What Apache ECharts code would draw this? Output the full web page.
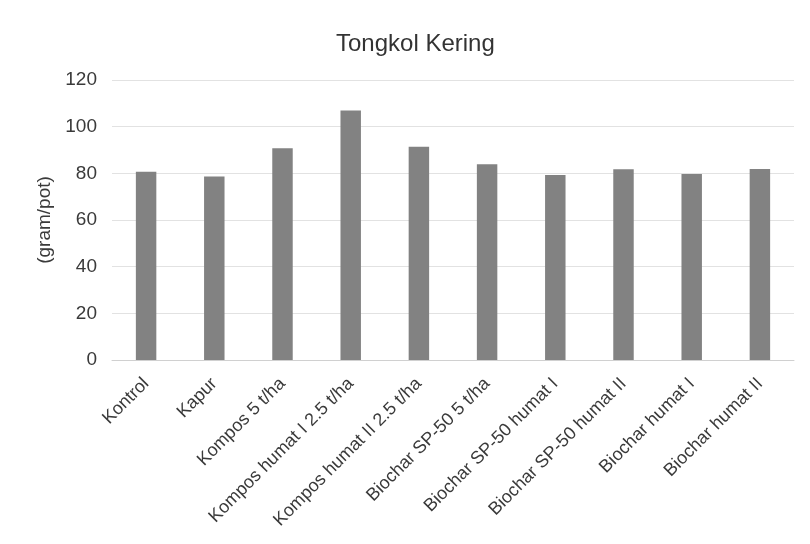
<!DOCTYPE html>
<html>
<head>
<meta charset="utf-8">
<script src="https://cdn.jsdelivr.net/npm/echarts@6/dist/echarts.min.js"></script>
<style>
html,body{margin:0;padding:0;background:#fff;}
#chart{width:810px;height:544px;}
</style>
</head>
<body>
<div id="chart"></div>
<script>
const categories = ["Kontrol", "Kapur", "Kompos 5 t/ha", "Kompos humat I 2.5 t/ha", "Kompos humat II 2.5 t/ha", "Biochar SP-50 5 t/ha", "Biochar SP-50 humat I", "Biochar SP-50 humat II", "Biochar humat I", "Biochar humat II"];
const values = [80.7, 78.6, 90.7, 106.9, 91.4, 83.9, 79.3, 81.7, 79.7, 81.9];
const yTicks = [0, 20, 40, 60, 80, 100, 120];
const titleText = "Tongkol Kering";
const yName = "(gram/pot)";

const chart = echarts.init(document.getElementById('chart'), null, {renderer: 'canvas'});
chart.setOption({
  animation: false,
  backgroundColor: '#ffffff',
  textStyle: {fontFamily: 'Liberation Sans'},
  title: {
    text: titleText,
    left: 331,
    top: 27,
    textStyle: {fontFamily: 'Liberation Sans', fontSize: 24, fontWeight: 'normal', color: '#333333'}
  },
  grid: {left: 112, right: 16, top: 80, bottom: 184, containLabel: false},
  xAxis: {
    type: 'category',
    data: categories,
    axisLine: {show: true, lineStyle: {color: '#d0d0d0', width: 1}},
    axisTick: {show: false},
    axisLabel: {rotate: 45, margin: 21, interval: 0, fontSize: 18, color: '#3a3a3a', fontFamily: 'Liberation Sans'}
  },
  yAxis: {
    type: 'value',
    min: yTicks[0],
    max: yTicks[yTicks.length - 1],
    interval: yTicks[1] - yTicks[0],
    name: yName,
    nameLocation: 'middle',
    nameGap: 53,
    nameTextStyle: {fontSize: 19, color: '#3a3a3a', fontFamily: 'Liberation Sans'},
    axisLine: {show: false},
    axisTick: {show: false},
    axisLabel: {margin: 15, fontSize: 19, color: '#3a3a3a', fontFamily: 'Liberation Sans'},
    splitLine: {show: true, lineStyle: {color: '#e2e2e2', width: 1}}
  },
  series: [{
    type: 'bar',
    data: values,
    barWidth: '30%',
    itemStyle: {color: '#828282'}
  }]
});
</script>
</body>
</html>
